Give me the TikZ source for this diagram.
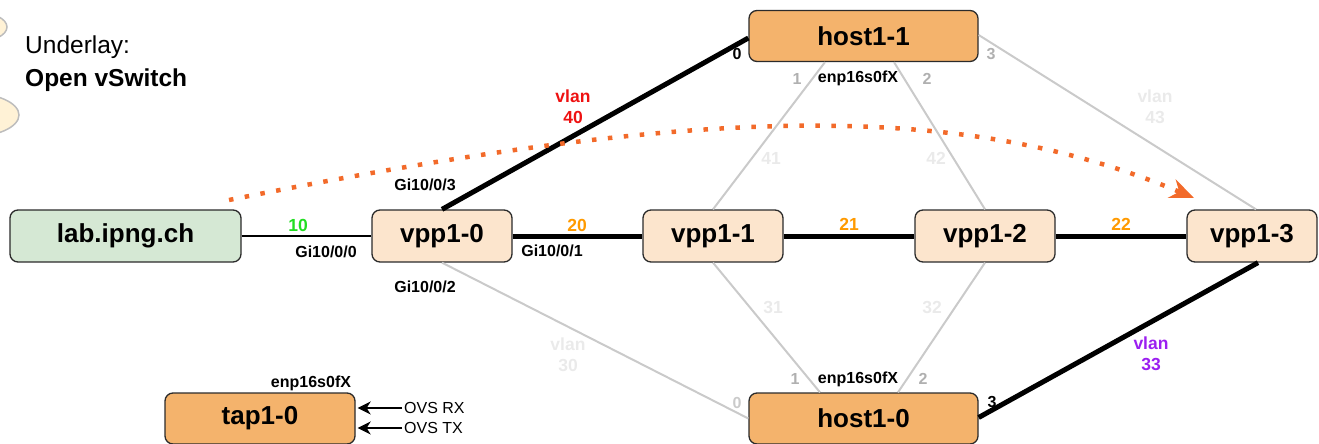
\documentclass[tikz,border=0pt]{standalone}
\usepackage{fontspec}
\setmainfont{Liberation Sans}
\usetikzlibrary{arrows.meta,calc}
\definecolor{labfill}{HTML}{D5E8D4}
\definecolor{vppfill}{HTML}{FCE5CD}
\definecolor{hostfill}{HTML}{F4B36C}
\definecolor{boxline}{HTML}{2B2B2B}
\definecolor{linkgray}{HTML}{CACACA}
\definecolor{portgray}{HTML}{B0B0B0}
\definecolor{faint}{HTML}{EAEAEA}
\definecolor{vlangreen}{HTML}{22DD22}
\definecolor{vlanorange}{HTML}{FF9A00}
\definecolor{vlanred}{HTML}{EE1111}
\definecolor{vlanpurple}{HTML}{9B1FF0}
\definecolor{flow}{HTML}{F26A2A}
\definecolor{bubble}{HTML}{FFF2D6}
\definecolor{bubbleline}{HTML}{BDBDBD}

\begin{document}
\begin{tikzpicture}[x=1pt,y=-1pt,
  box/.style={draw=boxline,line width=1.3pt,rounded corners=8pt,inner sep=0pt,
    minimum height=52pt,font=\fontsize{26}{30}\selectfont\bfseries},
  labbox/.style={box,fill=labfill,minimum width=231pt},
  vppbox/.style={box,fill=vppfill,minimum width=140pt},
  hostbox/.style={box,fill=hostfill,minimum width=229pt,minimum height=51pt},
  tapbox/.style={box,fill=hostfill,minimum width=190pt,minimum height=51pt},
  lbl/.style={inner sep=0pt,font=\fontsize{16}{18}\selectfont\bfseries},
  vlanlbl/.style={inner sep=0pt,align=center,font=\fontsize{17.5}{21}\selectfont\bfseries},
  thin link/.style={draw=black,line width=1.3pt},
  trunk/.style={draw=black,line width=5pt},
  idle/.style={draw=linkgray,line width=2pt},
  ovsarrow/.style={draw=black,line width=2.6pt,-{Stealth[length=13pt,width=13pt,inset=4pt]}},
]
\useasboundingbox (0,0) rectangle (1319,444);

% cut-off bubbles on the left margin
\draw[fill=bubble,draw=bubbleline,line width=1.5pt] (-24,27) ellipse [x radius=31pt,y radius=15pt];
\draw[fill=bubble,draw=bubbleline,line width=1.5pt] (-30,115) ellipse [x radius=49pt,y radius=22pt];

% title
\node[anchor=west,inner sep=0pt,font=\fontsize{24.5}{28}\selectfont] (title1) at (25,47) {Underlay:};
\node[anchor=west,inner sep=0pt,font=\fontsize{24.5}{28}\selectfont\bfseries] (title2) at (25,80) {Open vSwitch};

% boxes
\node[labbox] (lab) at (125.5,236) {lab.ipng.ch};
\node[vppbox] (vpp10) at (442,236) {vpp1-0};
\node[vppbox] (vpp11) at (713,236) {vpp1-1};
\node[vppbox] (vpp12) at (985,236) {vpp1-2};
\node[vppbox,minimum width=130pt] (vpp13) at (1252,236) {vpp1-3};
\node[hostbox] (host11) at (863.5,36) {host1-1};
\node[hostbox] (host10) at (863.5,418.5) {host1-0};
\node[tapbox] (tap) at (260,418.5) {tap1-0};

% idle links
\draw[idle] (vpp10.south) -- (host10.west);
\draw[idle] ([xshift=-38.5pt]host11.south) -- (vpp11.north);
\draw[idle] ([xshift=30.5pt]host11.south) -- (vpp12.north);
\draw[idle] ([yshift=1pt]host11.east) -- ([xshift=4pt]vpp13.north);
\draw[idle] ([xshift=-43.5pt]host10.north) -- (vpp11.south);
\draw[idle] ([xshift=34.5pt]host10.north) -- (vpp12.south);

% active links
\draw[thin link] (lab.east) -- (vpp10.west);
\draw[trunk] (vpp10.east) -- (vpp11.west);
\draw[trunk] (vpp11.east) -- (vpp12.west);
\draw[trunk] (vpp12.east) -- (vpp13.west);
\draw[trunk] (vpp10.north) -- ([yshift=-2pt]host11.west);
\draw[trunk] ([xshift=6pt]vpp13.south) -- ([yshift=1pt]host10.east);

% link labels
\node[vlanlbl,text=vlangreen] (v10) at (298,225) {10};
\node[vlanlbl,text=vlanorange] (v20) at (577,225) {20};
\node[vlanlbl,text=vlanorange] (v21) at (849,224) {21};
\node[vlanlbl,text=vlanorange] (v22) at (1121,224) {22};
\node[vlanlbl,text=vlanred] (v40) at (573,107) {vlan\\40};
\node[vlanlbl,text=vlanpurple] (v33) at (1151,354) {vlan\\33};
\node[vlanlbl,text=faint] (v43) at (1155,107) {vlan\\43};
\node[vlanlbl,text=faint] (v30) at (568,355) {vlan\\30};
\node[vlanlbl,text=faint] (v41) at (771,158) {41};
\node[vlanlbl,text=faint] (v42) at (936,158) {42};
\node[vlanlbl,text=faint] (v31) at (773,307) {31};
\node[vlanlbl,text=faint] (v32) at (932,307) {32};

% interface labels
\node[lbl] (gi0) at (326,252) {Gi10/0/0};
\node[lbl] (gi1) at (552,251) {Gi10/0/1};
\node[lbl] (gi2) at (425,287) {Gi10/0/2};
\node[lbl] (gi3) at (425,185) {Gi10/0/3};
\node[lbl] (h1if) at (858,78) {enp16s0fX};
\node[lbl] (h0if) at (858,379) {enp16s0fX};
\node[lbl] (tapif) at (311,383) {enp16s0fX};
\node[lbl] (h1p0) at (737,54) {0};
\node[lbl,text=portgray] (h1p1) at (797,79) {1};
\node[lbl,text=portgray] (h1p2) at (927,79) {2};
\node[lbl,text=portgray] (h1p3) at (991,54) {3};
\node[lbl,text=linkgray] (h0p0) at (737,403) {0};
\node[lbl,text=portgray] (h0p1) at (795,379) {1};
\node[lbl,text=portgray] (h0p2) at (923,379) {2};
\node[lbl] (h0p3) at (992,402) {3};

% OVS directions into the tap
\node[anchor=west,inner sep=0pt,font=\fontsize{16}{18}\selectfont] (ovsrx) at (404,408) {OVS RX};
\node[anchor=west,inner sep=0pt,font=\fontsize{16}{18}\selectfont] (ovstx) at (404,428) {OVS TX};
\draw[ovsarrow] ([xshift=-2pt]ovsrx.west) -- ([xshift=2pt]ovsrx.west -| tap.east);
\draw[ovsarrow] ([xshift=-2pt]ovstx.west) -- ([xshift=2pt]ovstx.west -| tap.east);

% traffic path
\coordinate (flowstart) at (229,200);
\coordinate (flowend) at (1194,198);
\draw[flow,line width=4.5pt,dash pattern=on 4.5pt off 11.5pt,
  -{Stealth[length=24pt,width=20pt,inset=8pt,sep=0pt]}]
  (flowstart) .. controls (679,110) and (950,95) .. (flowend);
\end{tikzpicture}
\end{document}
